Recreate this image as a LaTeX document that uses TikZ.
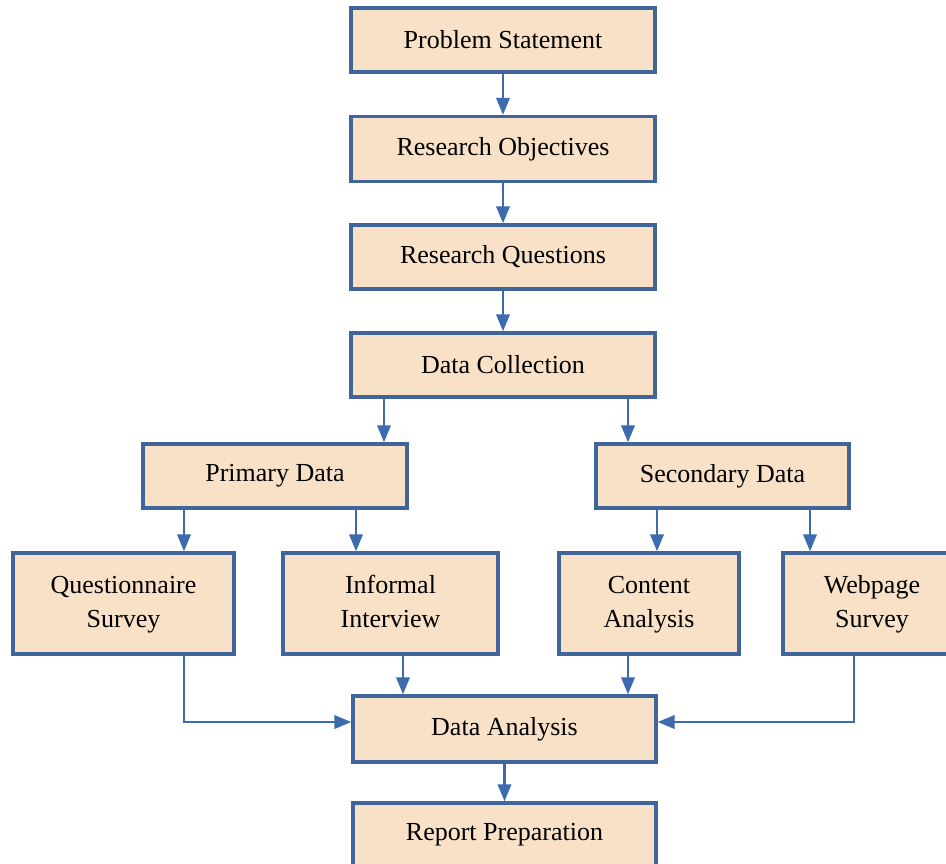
\documentclass[tikz,border=0pt]{standalone}
\usepackage{fontspec}
\setmainfont{Liberation Serif}
\usepackage{tikz}
\usetikzlibrary{arrows.meta}
\definecolor{boxfill}{HTML}{F8E1C6}
\definecolor{boxline}{HTML}{3F659A}
\definecolor{arrline}{HTML}{3C6BAE}
\tikzset{
	box/.style={draw=boxline, fill=boxfill, line width=2pt, sharp corners, align=center, inner sep=0pt, font=\fontsize{14.8}{19.5}\selectfont},
	topbox/.style={box, minimum width=6.08cm, minimum height=1.28cm},
	lowbox/.style={box, minimum height=2.02cm},
	arr/.style={draw=arrline, line width=1.3pt, -{Triangle[length=0.34cm, width=0.27cm]}}
}
\begin{document}
\begin{tikzpicture}[x=0.02cm, y=-0.02cm]
			\clip (0,0) rectangle (946,863);
			\fill[white] (0,0) rectangle (946,863);
			\node[topbox] (ps) at (503,40) {Problem Statement};
			\node[topbox, minimum height=1.3cm] (ro) at (503,149) {Research Objectives};
			\node[topbox] (rq) at (503,257) {Research Questions};
			\node[topbox] (dc) at (503,365) {Data Collection};
			\node[box, minimum width=5.28cm, minimum height=1.28cm] (pd) at (275,476) {Primary Data};
			\node[box, minimum width=5.06cm, minimum height=1.28cm] (sd) at (722.5,476) {Secondary Data};
			\node[lowbox, minimum width=4.42cm] (qs) at (123.5,603.5) {Questionnaire\strut\\Survey\strut};
			\node[lowbox, minimum width=4.3cm] (ii) at (390.5,603.5) {Informal\strut\\Interview\strut};
			\node[lowbox, minimum width=3.6cm] (ca) at (649,603.5) {Content\strut\\Analysis\strut};
			\node[lowbox, minimum width=3.56cm] (ws) at (872,603.5) {Webpage\strut\\Survey\strut};
			\node[box, minimum width=6.06cm, minimum height=1.32cm] (da) at (504.5,729) {Data Analysis};
			\node[box, minimum width=6.06cm, minimum height=1.28cm] (rp) at (504.5,835) {Report Preparation};
			\draw[arr] (ps) -- (ro);
			\draw[arr] (ro) -- (rq);
			\draw[arr] (rq) -- (dc);
			\draw[arr] (dc.south -| 384,0) -- (pd.north -| 384,0);
			\draw[arr] (dc.south -| 628,0) -- (sd.north -| 628,0);
			\draw[arr] (pd.south -| 184,0) -- (qs.north -| 184,0);
			\draw[arr] (pd.south -| 356,0) -- (ii.north -| 356,0);
			\draw[arr] (sd.south -| 657,0) -- (ca.north -| 657,0);
			\draw[arr] (sd.south -| 810,0) -- (ws.north -| 810,0);
			\draw[arr] (qs.south -| 184,0) |- (da.west |- 0,722);
			\draw[arr] (ii.south -| 403,0) -- (da.north -| 403,0);
			\draw[arr] (ca.south -| 628,0) -- (da.north -| 628,0);
			\draw[arr] (ws.south -| 854,0) |- (da.east |- 0,722);
			\draw[arr] (da) -- (rp);
\end{tikzpicture}
\end{document}
